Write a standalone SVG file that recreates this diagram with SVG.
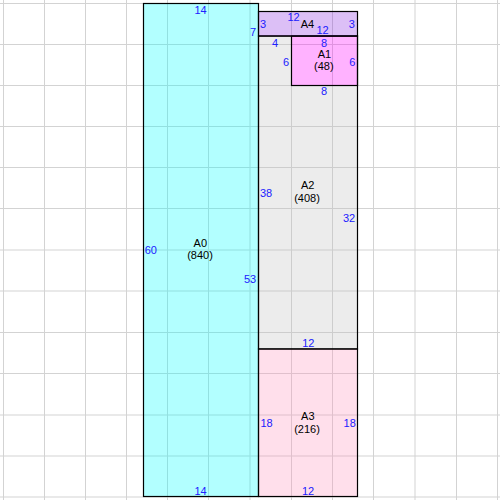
<svg xmlns="http://www.w3.org/2000/svg" width="500" height="500" viewBox="0 0 500 500">
<style>
.grid line{stroke:#d3d3d3;stroke-width:1}
.box{stroke:#000;stroke-width:1.2}
.name{font-family:"Liberation Sans",Arial,sans-serif;font-size:11px;fill:#000;text-anchor:middle}
.dim{font-family:"Liberation Sans",Arial,sans-serif;font-size:11px;fill:#2020ff;text-anchor:middle}
</style>
<rect x="0" y="0" width="500" height="500" fill="#fff"/>
<g class="grid">
<line x1="3.5" y1="0" x2="3.5" y2="500"/>
<line x1="44.5" y1="0" x2="44.5" y2="500"/>
<line x1="85.5" y1="0" x2="85.5" y2="500"/>
<line x1="126.5" y1="0" x2="126.5" y2="500"/>
<line x1="167.5" y1="0" x2="167.5" y2="500"/>
<line x1="208.5" y1="0" x2="208.5" y2="500"/>
<line x1="250" y1="0" x2="250" y2="500"/>
<line x1="291.5" y1="0" x2="291.5" y2="500"/>
<line x1="332.5" y1="0" x2="332.5" y2="500"/>
<line x1="373.5" y1="0" x2="373.5" y2="500"/>
<line x1="415" y1="0" x2="415" y2="500"/>
<line x1="456.5" y1="0" x2="456.5" y2="500"/>
<line x1="497.5" y1="0" x2="497.5" y2="500"/>
<line x1="0" y1="3.5" x2="500" y2="3.5"/>
<line x1="0" y1="44.5" x2="500" y2="44.5"/>
<line x1="0" y1="85.5" x2="500" y2="85.5"/>
<line x1="0" y1="126.5" x2="500" y2="126.5"/>
<line x1="0" y1="167.5" x2="500" y2="167.5"/>
<line x1="0" y1="208.5" x2="500" y2="208.5"/>
<line x1="0" y1="250" x2="500" y2="250"/>
<line x1="0" y1="291" x2="500" y2="291"/>
<line x1="0" y1="332.5" x2="500" y2="332.5"/>
<line x1="0" y1="373.5" x2="500" y2="373.5"/>
<line x1="0" y1="415" x2="500" y2="415"/>
<line x1="0" y1="456" x2="500" y2="456"/>
<line x1="0" y1="497" x2="500" y2="497"/>
</g>
<g id="A0">
<rect class="box" x="143.5" y="3.5" width="115" height="493" fill="rgba(0,255,255,0.3)"/>
<text class="name" x="200.3" y="246.5">A0</text>
<text class="name" x="200" y="259">(840)</text>
<text class="dim" x="200.5" y="14">14</text>
<text class="dim" x="200.5" y="495">14</text>
<text class="dim" x="150.8" y="254">60</text>
<text class="dim" x="253" y="36">7</text>
<text class="dim" x="250" y="283">53</text>
</g>
<g id="A2">
<path d="M258.5 36 H291.5 V85.5 H357.5 V349 H258.5 Z" fill="rgba(192,192,192,0.3)"/>
<rect class="box" x="258.5" y="36" width="99" height="313" fill="none"/>
<text class="name" x="307.7" y="189">A2</text>
<text class="name" x="307" y="201.5">(408)</text>
<text class="dim" x="275" y="47">4</text>
<text class="dim" x="266" y="197">38</text>
<text class="dim" x="349" y="221.5">32</text>
<text class="dim" x="308.3" y="347">12</text>
</g>
<g id="A1">
<rect class="box" x="291.5" y="36" width="66" height="49.5" fill="rgba(255,0,255,0.3)"/>
<text class="name" x="324.5" y="57.5">A1</text>
<text class="name" x="323.8" y="70">(48)</text>
<text class="dim" x="324" y="46.5">8</text>
<text class="dim" x="324" y="95">8</text>
<text class="dim" x="286" y="65.7">6</text>
<text class="dim" x="352.2" y="65.7">6</text>
</g>
<g id="A4">
<rect class="box" x="258.5" y="11.5" width="99" height="24.5" fill="rgba(138,43,226,0.3)"/>
<text class="name" x="307.5" y="28">A4</text>
<text class="dim" x="293.5" y="21.3">12</text>
<text class="dim" x="322.5" y="34">12</text>
<text class="dim" x="263" y="28">3</text>
<text class="dim" x="351.7" y="28">3</text>
</g>
<g id="A3">
<rect class="box" x="258.5" y="349" width="99" height="147.5" fill="rgba(255,150,190,0.3)"/>
<text class="name" x="307.8" y="420">A3</text>
<text class="name" x="307" y="432.7">(216)</text>
<text class="dim" x="308" y="495">12</text>
<text class="dim" x="266.5" y="427">18</text>
<text class="dim" x="349.7" y="427">18</text>
</g>
<g id="connectors"/>
</svg>
